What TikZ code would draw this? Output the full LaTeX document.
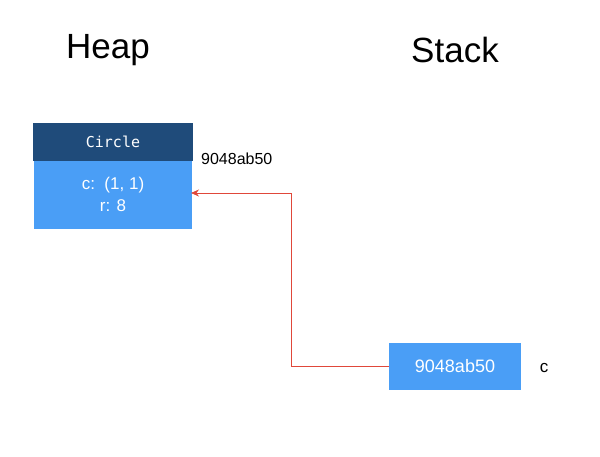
\documentclass[tikz,border=0pt]{standalone}
\usepackage{fontspec}
\setmainfont{Liberation Sans}
\newfontfamily\monofont{DejaVu Sans Mono}
\usetikzlibrary{arrows.meta}
\definecolor{hdr}{RGB}{31,75,122}
\definecolor{bodyblue}{RGB}{74,158,246}
\definecolor{arrowred}{RGB}{224,72,58}
\tikzset{
  title/.style={font=\fontsize{35}{40}\selectfont, text=black},
  hdrbox/.style={fill=hdr, draw=none, text=white, minimum width=160pt, minimum height=38pt, inner sep=0pt, font=\monofont\fontsize{15}{18}\selectfont},
  bodybox/.style={fill=bodyblue, draw=none, text=white, minimum width=158pt, minimum height=68pt, inner sep=0pt, align=center, font=\fontsize{17}{21}\selectfont},
  stackbox/.style={fill=bodyblue, draw=none, text=white, minimum width=132pt, minimum height=47pt, inner sep=0pt, font=\fontsize{18}{21}\selectfont},
  lbl/.style={text=black, inner sep=0pt, font=\fontsize{16}{19}\selectfont},
  ptr/.style={draw=arrowred, line width=0.8pt, -{Stealth[length=8pt,width=7pt]}}
}
\begin{document}
\begin{tikzpicture}[x=1pt,y=-1pt]
\useasboundingbox (0,0) rectangle (600,456);
\node[title] (heap) at (108,50) {Heap};
\node[title] (stack) at (455,50) {Stack};
\node[hdrbox] (hdr) at (113,142) {Circle};
\node[bodybox, anchor=north] (body) at ([yshift=0.5pt]hdr.south) {\rule{0pt}{2pt}c:\ \ (1, 1)\\[1pt]r: 8};
\node[lbl, anchor=west] (addr) at (201,159) {9048ab50};
\node[stackbox] (sbox) at (455,366.5) {9048ab50};
\node[lbl, font=\fontsize{17}{20}\selectfont] (cvar) at (544,368) {c};
\coordinate (tgt) at (191,193);
\draw[ptr] (sbox.west) -| (291,193) -- (tgt);
\end{tikzpicture}
\end{document}
